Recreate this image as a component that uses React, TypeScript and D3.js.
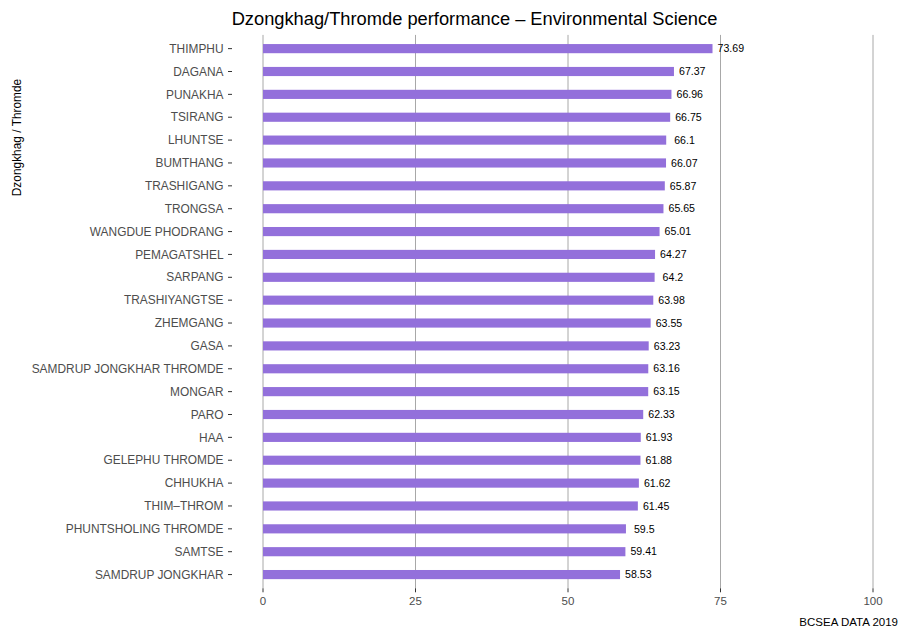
import React from "react";
import * as d3 from "d3";

const districts = [
  "THIMPHU",
  "DAGANA",
  "PUNAKHA",
  "TSIRANG",
  "LHUNTSE",
  "BUMTHANG",
  "TRASHIGANG",
  "TRONGSA",
  "WANGDUE PHODRANG",
  "PEMAGATSHEL",
  "SARPANG",
  "TRASHIYANGTSE",
  "ZHEMGANG",
  "GASA",
  "SAMDRUP JONGKHAR THROMDE",
  "MONGAR",
  "PARO",
  "HAA",
  "GELEPHU THROMDE",
  "CHHUKHA",
  "THIM–THROM",
  "PHUNTSHOLING THROMDE",
  "SAMTSE",
  "SAMDRUP JONGKHAR",
];

const scores = [
  73.69, 67.37, 66.96, 66.75, 66.1, 66.07, 65.87, 65.65, 65.01, 64.27, 64.2,
  63.98, 63.55, 63.23, 63.16, 63.15, 62.33, 61.93, 61.88, 61.62, 61.45, 59.5,
  59.41, 58.53,
];

const xTicks = [0, 25, 50, 75, 100];

const W = 905;
const H = 629;
const font = "'Liberation Sans', Arial, Helvetica, sans-serif";

export default function App() {
  const x = d3.scaleLinear().domain([0, 100]).range([263, 873]);
  const y = d3
    .scaleBand<string>()
    .domain(districts)
    .range([37.2, 586])
    .paddingInner(0.6)
    .paddingOuter(0.3);

  const step = y.step();
  const panelTop = (y(districts[0]) ?? 0) + y.bandwidth() / 2 - 0.6 * step;
  const panelBottom =
    (y(districts[districts.length - 1]) ?? 0) + y.bandwidth() / 2 + 0.6 * step;
  const panelLeft = 232;

  return (
    <svg
      width={W}
      height={H}
      style={{ position: "absolute", left: 0, top: 0, background: "#fff" }}
      fontFamily={font}
    >
      {/* title */}
      <text x={474.5} y={24.5} textAnchor="middle" fontSize={18.3} fill="#000">
        Dzongkhag/Thromde performance – Environmental Science
      </text>

      {/* vertical grid lines + x axis */}
      {xTicks.map((t) => (
        <g key={t}>
          <line
            x1={x(t)}
            x2={x(t)}
            y1={panelTop}
            y2={panelBottom}
            stroke="#a8a8a8"
            strokeWidth={1}
          />
          <line
            x1={x(t)}
            x2={x(t)}
            y1={panelBottom}
            y2={panelBottom + 4}
            stroke="#333"
            strokeWidth={1}
          />
          <text
            x={x(t)}
            y={panelBottom + 16.5}
            textAnchor="middle"
            fontSize={11.5}
            fill="#4d4d4d"
          >
            {t}
          </text>
        </g>
      ))}

      {/* bars */}
      {districts.map((d, i) => {
        const yy = y(d) ?? 0;
        const cy = yy + y.bandwidth() / 2;
        return (
          <g key={d}>
            <rect
              x={x(0)}
              y={yy}
              width={x(scores[i]) - x(0)}
              height={y.bandwidth()}
              fill="#9370DB"
            />
            <text
              x={x(scores[i] + 3)}
              y={cy}
              dy="0.35em"
              textAnchor="middle"
              fontSize={10.6}
              fill="#000"
            >
              {scores[i]}
            </text>
            <line
              x1={panelLeft - 4}
              x2={panelLeft}
              y1={cy}
              y2={cy}
              stroke="#333"
              strokeWidth={1}
            />
            <text
              x={panelLeft - 8.5}
              y={cy}
              dy="0.35em"
              textAnchor="end"
              fontSize={11.9}
              fill="#4d4d4d"
            >
              {d}
            </text>
          </g>
        );
      })}

      {/* y axis title */}
      <text
        transform={`translate(20.5,137.5) rotate(-90)`}
        textAnchor="middle"
        fontSize={11.9}
        fill="#000"
      >
        Dzongkhag / Thromde
      </text>

      {/* caption */}
      <text x={898} y={626} textAnchor="end" fontSize={11.5} fill="#000">
        BCSEA DATA 2019
      </text>
    </svg>
  );
}
